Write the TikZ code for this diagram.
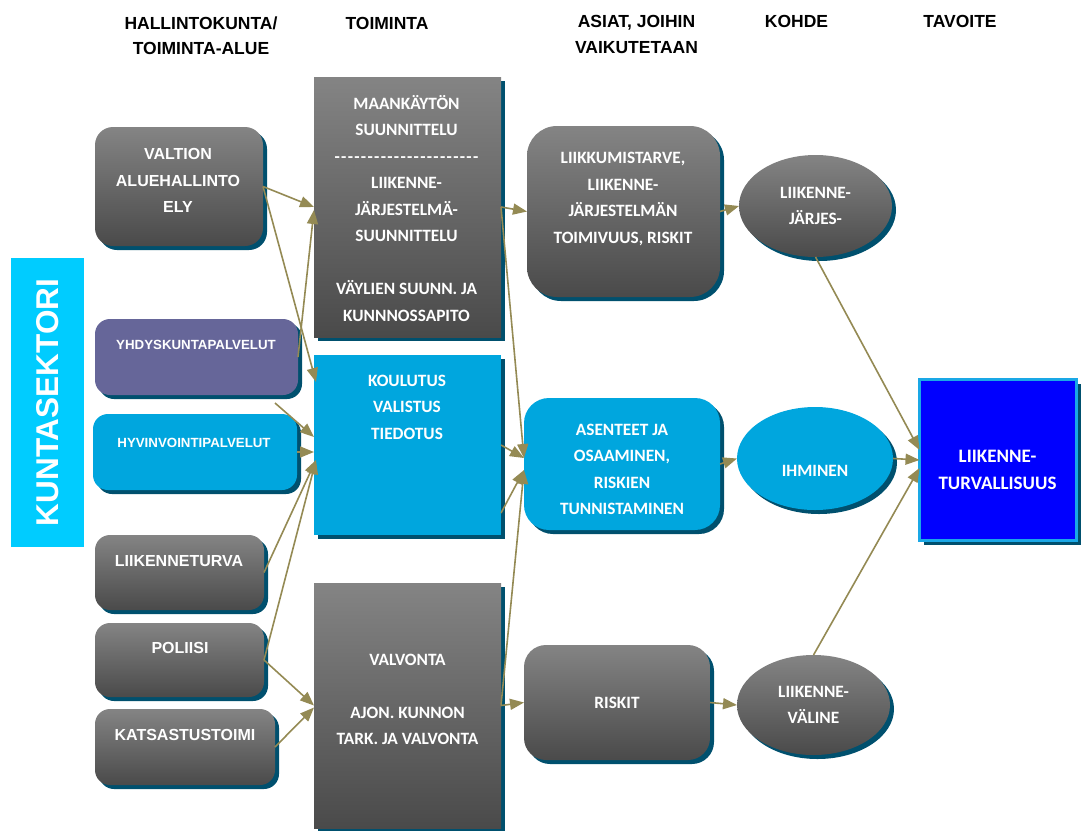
\documentclass[tikz,border=0pt]{standalone}
\usepackage{fontspec}
\setmainfont{Liberation Sans}
\newfontfamily\cfont{Carlito}
\usetikzlibrary{arrows.meta,shapes.geometric,shadows,calc}
\definecolor{arrc}{HTML}{948A54}
\definecolor{shadc}{HTML}{00506E}
\definecolor{gtop}{HTML}{848484}
\definecolor{gbot}{HTML}{4A4A4A}
\definecolor{bluec}{HTML}{00A6DE}
\definecolor{purp}{HTML}{666699}
\definecolor{kunta}{HTML}{00CCFF}
\definecolor{ltvc}{HTML}{0000FF}
\definecolor{ltvb}{HTML}{1AA8E6}
\newcommand{\mydashes}{-\kern1.3pt-\kern1.3pt-\kern1.3pt-\kern1.3pt-\kern1.3pt-\kern1.3pt-\kern1.3pt-\kern1.3pt-\kern1.3pt-\kern1.3pt-\kern1.3pt-\kern1.3pt-\kern1.3pt-\kern1.3pt-\kern1.3pt-\kern1.3pt-\kern1.3pt-\kern1.3pt-\kern1.3pt-\kern1.3pt-\kern1.3pt-}
\tikzset{
  shad/.style={drop shadow={shadow xshift=4pt,shadow yshift=-4pt,fill=shadc,opacity=1}},
  base/.style={inner sep=0pt, outer sep=0pt, draw=none},
  graybox/.style={base, shad, top color=gtop, bottom color=gbot},
  bluebox/.style={base, shad, fill=bluec},
  purpbox/.style={base, shad, fill=purp},
  hdr/.style={font=\bfseries\fontsize{17.5}{25.5}\selectfont, align=center, inner sep=0pt},
  ltxt/.style={text=white, font=\bfseries\fontsize{16}{26.5}\selectfont, align=center, inner sep=0pt},
  stxt/.style={text=white, font=\bfseries\fontsize{13.3}{20}\selectfont, align=center, inner sep=0pt},
  ctxt/.style={text=white, font=\cfont\bfseries\fontsize{17.3}{26.5}\selectfont, align=center, inner sep=0pt},
  arr/.style={draw=arrc, line width=1.6pt, -{Triangle[length=14pt,width=11pt]}}
}
\begin{document}
\begin{tikzpicture}[x=1pt,y=-1pt]
\useasboundingbox (0,0) rectangle (1083,830);
\fill[white] (0,0) rectangle (1083,830);

% headers
\node[hdr] (h1) at (201,35.75) {HALLINTOKUNTA/\\TOIMINTA-ALUE};
\node[hdr] (h2) at (387,23) {TOIMINTA};
\node[hdr] (h3) at (636.5,34.25) {ASIAT, JOIHIN\\VAIKUTETAAN};
\node[hdr] (h4) at (796.5,21.5) {KOHDE};
\node[hdr] (h5) at (960,21.5) {TAVOITE};

% kuntasektori
\node[base, fill=kunta, minimum width=289pt, minimum height=73pt, rotate=90,
      text=white, font=\bfseries\fontsize{31.5}{32}\selectfont] (kunta) at (47.5,402.5) {KUNTASEKTORI};

% left column
\node[graybox, rounded corners=18pt, minimum width=168pt, minimum height=119pt] (valtion) at (179,186.5) {};
\node[ltxt] (tvaltion) at (178,180.7) {VALTION\\ALUEHALLINTO\\ELY};
\node[purpbox, rounded corners=15pt, minimum width=203pt, minimum height=76pt] (yhd) at (196.5,357) {};
\node[stxt] (tyhd) at (196,345) {YHDYSKUNTAPALVELUT};
\node[bluebox, rounded corners=15pt, minimum width=204pt, minimum height=76pt] (hyv) at (195,452) {};
\node[stxt] (thyv) at (194,443) {HYVINVOINTIPALVELUT};
\node[graybox, rounded corners=15pt, minimum width=169pt, minimum height=75pt] (lturva) at (179.5,572.5) {};
\node[ltxt] (tlturva) at (179,561) {LIIKENNETURVA};
\node[graybox, rounded corners=15pt, minimum width=169pt, minimum height=74pt] (pol) at (179.5,660) {};
\node[ltxt] (tpol) at (180,648) {POLIISI};
\node[graybox, rounded corners=15pt, minimum width=180pt, minimum height=76pt] (kat) at (185,747) {};
\node[ltxt] (tkat) at (185,735) {KATSASTUSTOIMI};

% middle column
\node[graybox, minimum width=187pt, minimum height=260pt] (box1) at (407.5,207) {};
\node[ctxt] (tbox1) at (406.5,208.5) {MAANKÄYTÖN\\SUUNNITTELU\\\mydashes\\LIIKENNE-\\JÄRJESTELMÄ-\\SUUNNITTELU\\\mbox{}\\VÄYLIEN SUUNN. JA\\KUNNNOSSAPITO};
\node[bluebox, minimum width=187pt, minimum height=180pt] (box2) at (407.5,445) {};
\node[ctxt] (tbox2) at (407,407) {KOULUTUS\\VALISTUS\\TIEDOTUS};
\node[graybox, minimum width=187pt, minimum height=245pt] (box3) at (407.5,705.5) {};
\node[ctxt] (tbox3) at (407.5,699.5) {VALVONTA\\\mbox{}\\AJON. KUNNON\\TARK. JA VALVONTA};

% third column
\node[graybox, rounded corners=30pt, minimum width=193pt, minimum height=171pt] (liikk) at (623.5,211.5) {};
\node[ctxt, text depth=0pt] (tliikk) at (623,198) {LIIKKUMISTARVE,\\LIIKENNE-\\JÄRJESTELMÄN\\TOIMIVUUS, RISKIT};
\node[bluebox, rounded corners=25pt, minimum width=196pt, minimum height=132pt] (ases) at (622,464) {};
\node[ctxt] (tases) at (622,469.5) {ASENTEET JA\\OSAAMINEN,\\RISKIEN\\TUNNISTAMINEN};
\node[graybox, rounded corners=22pt, minimum width=186pt, minimum height=115pt, ctxt] (riskit) at (617,702.5) {RISKIT};

% fourth column
\node[graybox, ellipse, minimum width=153pt, minimum height=102pt, ctxt] (e1) at (815.5,206) {LIIKENNE-\\JÄRJES-};
\node[bluebox, ellipse, minimum width=156pt, minimum height=103pt] (ihm) at (815,458.5) {};
\node[ctxt] (tihm) at (815,471) {IHMINEN};
\node[graybox, ellipse, minimum width=153pt, minimum height=100pt, ctxt] (e3) at (813.5,705) {LIIKENNE-\\VÄLINE};

% goal
\node[base, shad, fill=ltvc, draw=ltvb, line width=3pt, minimum width=157pt, minimum height=161pt] (ltv) at (998,460) {};
\node[ctxt, font=\cfont\bfseries\fontsize{19}{26.5}\selectfont] (tltv) at (997.5,470) {LIIKENNE-\\TURVALLISUUS};

% connectors
\draw[arr] (valtion.east) -- (box1.west);
\draw[arr] (valtion.east) -- ($(box2.north west)+(2,27)$);
\draw[arr] (yhd.east) -- ($(box1.west)+(0,3)$);
\draw[arr] ($(yhd.south east)+(-23,8)$) -- ($(box2.west)+(0,-8)$);
\draw[arr] (hyv.east) -- (box2.west |- hyv.east);
\draw[arr] (lturva.east) -- ($(box2.west)+(2,15)$);
\draw[arr] (pol.east) -- ($(box2.west)+(2,15)$);
\draw[arr] (pol.east) -- (box3.west);
\draw[arr] (kat.east) -- ($(box3.west)+(0,2)$);
\draw[arr] (box1.east) -- (liikk.west);
\draw[arr] (box1.east) -- ($(ases.west)+(0,-6)$);
\draw[arr] (box2.east) -- ($(ases.west)+(0,-6)$);
\draw[arr] ($(box2.east)+(0,68)$) -- ($(ases.west)+(0,6)$);
\draw[arr] (box3.east) -- ($(ases.west)+(0,6)$);
\draw[arr] (box3.east) -- (riskit.west);
\draw[arr] (liikk.east) -- (e1.west);
\draw[arr] (ases.east) -- (ihm.west);
\draw[arr] (riskit.east) -- (e3.west);
\draw[arr] (e1.south) -- ($(ltv.west)+(0,-10)$);
\draw[arr] (ihm.east) -- (ltv.west);
\draw[arr] (e3.north) -- ($(ltv.west)+(0,8)$);
\end{tikzpicture}
\end{document}
